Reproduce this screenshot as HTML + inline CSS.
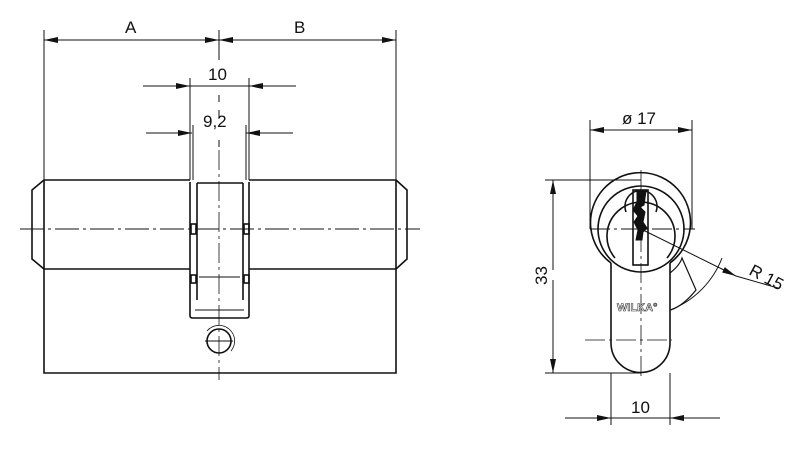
<!DOCTYPE html><html><head><style>body{margin:0;background:#fff}svg{display:block}text{font-family:"Liberation Sans",sans-serif;font-size:17px;fill:#111;stroke:none}</style></head><body>
<svg width="800" height="450" viewBox="0 0 800 450" stroke="#111" fill="none" stroke-width="1">
<defs><marker id="a" viewBox="0 0 14 6" refX="14" refY="3" markerWidth="14" markerHeight="6" orient="auto" markerUnits="userSpaceOnUse"><path d="M0,0L14,3L0,6z" fill="#111" stroke="none"/></marker></defs>
<path d="M44 30V180M219 30V60M396 30V180M190 78V180M249 78V180M193 125V180M246 125V180"/>
<path d="M44 40H396"/>
<line x1="100" y1="40" x2="44" y2="40" marker-end="url(#a)"/>
<line x1="150" y1="40" x2="219" y2="40" marker-end="url(#a)"/>
<line x1="290" y1="40" x2="219" y2="40" marker-end="url(#a)"/>
<line x1="240" y1="40" x2="396" y2="40" marker-end="url(#a)"/>
<text x="125" y="33">A</text><text x="294" y="33">B</text>
<line x1="143" y1="86" x2="190" y2="86" marker-end="url(#a)"/>
<line x1="296" y1="86" x2="249" y2="86" marker-end="url(#a)"/>
<line x1="190" y1="86" x2="249" y2="86"/>
<text x="208" y="80">10</text>
<line x1="146" y1="133" x2="192" y2="133" marker-end="url(#a)"/>
<line x1="293" y1="133" x2="246" y2="133" marker-end="url(#a)"/>
<text x="203" y="127">9,2</text>
<path d="M219 95V102M219 110V117M219 140V147" />
<g stroke-width="1.6">
<path d="M44 180H190M249 180H396M44 269H190M249 269H396M44 180V373H396V180"/>
<path d="M44 180L32 190V259L44 269M396 180L407 190V259L396 269"/>
<path d="M190 182V300M249 182V300M190 300V316Q190 318 193 318H246Q249 318 249 316V300"/>
<path d="M197 183H243M197 183V300M243 183V300"/>
<rect x="191" y="224" width="5" height="10"/><rect x="244" y="224" width="5" height="10"/>
<rect x="191" y="275" width="5" height="8"/><rect x="244" y="275" width="5" height="8"/>
</g>
<path d="M199 277H240M195 310H244"/>
<circle cx="219" cy="341" r="12" stroke-width="1.6"/>
<path d="M207 331A14 14 0 1 1 231 351" stroke-width="0.8"/>
<path d="M205 341H233"/>
<path d="M20 229H420" stroke-dasharray="24 4 3 4"/>
<path d="M219 150V380" stroke-dasharray="20 4 3 4" stroke-width="0.8"/>
<path d="M590 120V229M692 120V229"/>
<line x1="620" y1="130" x2="590" y2="130" marker-end="url(#a)"/>
<line x1="660" y1="130" x2="692" y2="130" marker-end="url(#a)"/>
<line x1="620" y1="130" x2="660" y2="130"/>
<text x="622" y="124">ø 17</text>
<path d="M545 180H641M545 373H641"/>
<line x1="553" y1="270" x2="553" y2="180" marker-end="url(#a)"/>
<line x1="553" y1="280" x2="553" y2="373" marker-end="url(#a)"/>
<text transform="translate(547,285) rotate(-90)">33</text>
<path d="M611 373V425M670 373V425"/>
<line x1="565" y1="418" x2="611" y2="418" marker-end="url(#a)"/>
<line x1="720" y1="418" x2="670" y2="418" marker-end="url(#a)"/>
<line x1="611" y1="418" x2="670" y2="418"/>
<text x="631" y="413">10</text>
<g stroke-width="1.6">
<path d="M611 263V343A29.5 29.5 0 0 0 670 343V263"/>
<path d="M611 263A50 50 0 1 1 670 263"/>
<circle cx="641" cy="229" r="43"/>
<path d="M615 258A34 34 0 1 1 667 258"/>
<path d="M626 212A16 16 0 1 1 656 212"/>
<rect x="633" y="190" width="15" height="75"/>
<path d="M670 273Q680 265 682 258L696 290Q684 305 671 310" stroke-width="1.2"/>
</g>
<path d="M637 191H646L644 205L640 207L645 212L643 222L647 228L643 232L642 240L636 240L638 230L634 222L638 216L633 210L637 202Z" fill="#111"/>
<path d="M590 229H695" stroke-dasharray="20 4 3 4"/>
<path d="M641 170V380" stroke-dasharray="20 4 3 4" stroke-width="0.8"/>
<path d="M585 340H672" stroke-dasharray="20 4 3 4" stroke-width="0.8"/>
<path d="M670 310A90 90 0 0 0 722 258"/>
<line x1="641" y1="229" x2="736" y2="276" marker-end="url(#a)"/>
<line x1="736" y1="276" x2="778" y2="288"/>
<text transform="translate(748,274) rotate(28)">R 15</text>
<text x="617" y="311" style="font-size:11px;font-weight:bold;fill:#fff;stroke:#333;stroke-width:0.6">WILKA°</text>
</svg></body></html>
